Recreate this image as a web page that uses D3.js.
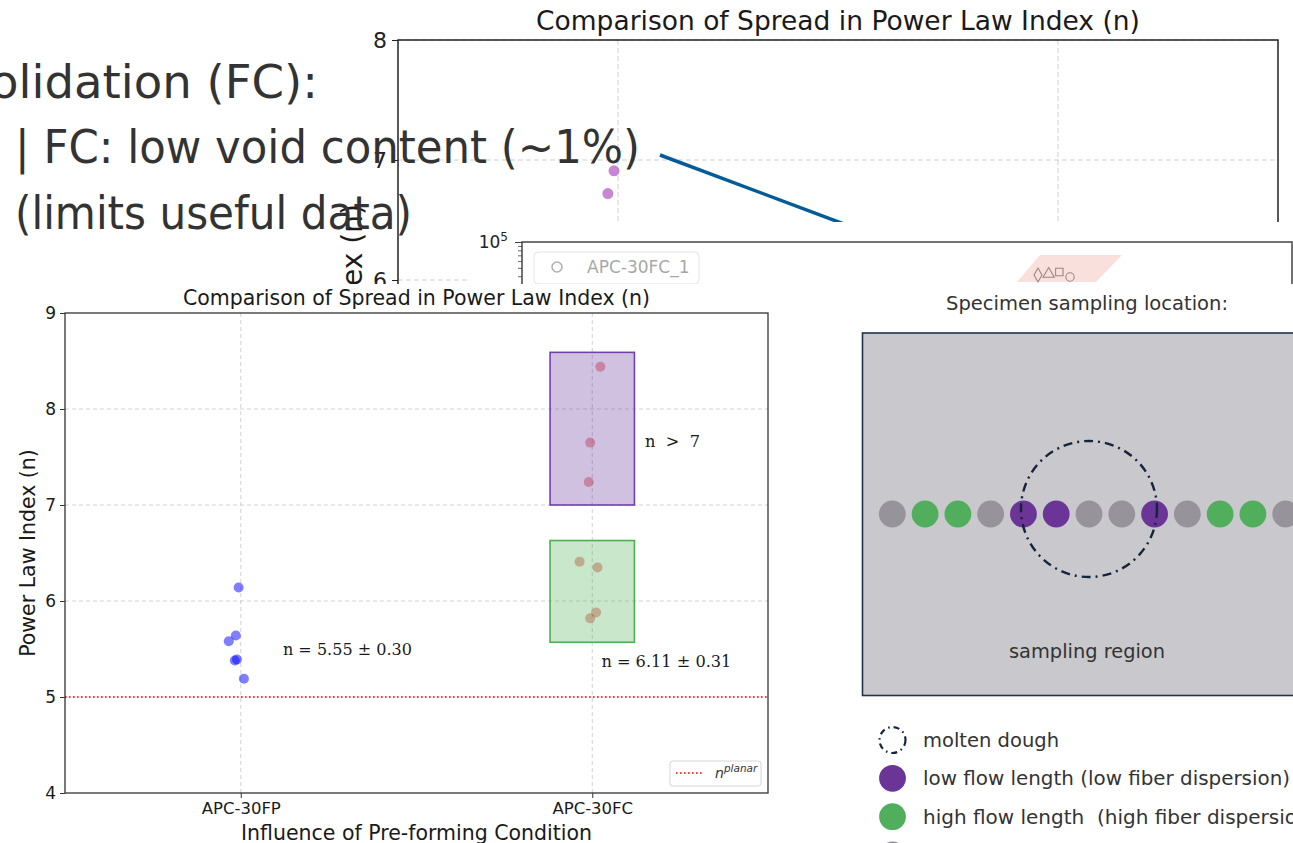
<!DOCTYPE html>
<html>
<head>
<meta charset="utf-8">
<script src="https://cdn.jsdelivr.net/npm/d3@7"></script>
<style>
  html, body { margin: 0; padding: 0; background: #fff; overflow: hidden; }
  svg { display: block; }
</style>
</head>
<body>
<svg id="slide" width="1293" height="843"></svg>
<script>
// ---------------- data ----------------
const categories = ["APC-30FP", "APC-30FC"];

// power law index per specimen, with horizontal jitter (category units)
const fpValues = [6.14, 5.64, 5.58, 5.39, 5.38, 5.19];
const fpJitter = [-0.006, -0.014, -0.034, -0.011, -0.017, 0.009];
const fcHighValues = [8.44, 7.65, 7.24];
const fcHighJitter = [0.023, -0.006, -0.010];
const fcLowValues = [6.41, 6.35, 5.88, 5.82];
const fcLowJitter = [-0.036, 0.015, 0.011, -0.006];

// shaded ranges for the FC groups
const fcHighBand = [7.0, 8.59];
const fcLowBand = [5.57, 6.63];

const nPlanar = 5;
const yTicks = [4, 5, 6, 7, 8, 9];
const chartTitle = "Comparison of Spread in Power Law Index (n)";
const yTitle = "Power Law Index (n)";
const xTitle = "Influence of Pre-forming Condition";
const annotations = ["n = 5.55 \u00B1 0.30", "n  >  7", "n = 6.11 \u00B1 0.31"];

// earlier version of the chart (behind)
const prevValues = [6.91, 6.72];
const prevJitter = [-0.009, -0.023];
const prevTicks = [6, 7, 8];

// inset log chart fragment
const insetLegend = ["APC-30FC_1"];
const insetMarkers = ["diamond", "triangle", "square", "circle"];

// slide text
const slideLines = ["olidation (FC):", "| FC: low void content (~1%)", "(limits useful data)"];

// sampling strip (flow length class for each sample position)
const stripKinds = ["mid", "high", "high", "mid", "low", "low", "mid", "mid", "low", "mid", "high", "high", "mid"];
const diagramTitle = "Specimen sampling location:";
const regionLabel = "sampling region";
const legendLabels = ["molten dough", "low flow length (low fiber dispersion)", "high flow length  (high fiber dispersion)"];
const legendKinds = ["dough", "low", "high", "mid"];

// ---------------- drawing ----------------
const SANS = "'DejaVu Sans', sans-serif";
const SERIF = "'DejaVu Serif', serif";
const svg = d3.select("#slide");

const kindColor = { low: "#6a3596", high: "#50ae5c", mid: "#96939a" };

// ===== earlier chart, partially hidden =====
const bg = svg.append("g");
const px = d3.scaleLinear().domain([-0.5, 1.5]).range([398, 1278]);
const py = d3.scaleLinear().domain([6, 8]).range([280, 40]);

bg.selectAll("line.gy").data(prevTicks).join("line")
  .attr("x1", px(-0.5)).attr("x2", px(1.5))
  .attr("y1", d => py(d)).attr("y2", d => py(d))
  .attr("stroke", "#cfcfcf").attr("stroke-width", 1).attr("stroke-dasharray", "5,3");
bg.selectAll("line.gx").data([0, 1]).join("line")
  .attr("x1", d => px(d)).attr("x2", d => px(d))
  .attr("y1", py(8)).attr("y2", py(4))
  .attr("stroke", "#cfcfcf").attr("stroke-width", 1).attr("stroke-dasharray", "5,3");

bg.append("rect")
  .attr("x", px(-0.5)).attr("y", py(8))
  .attr("width", px(1.5) - px(-0.5)).attr("height", py(4) - py(8))
  .attr("fill", "none").attr("stroke", "#222").attr("stroke-width", 1.5);

bg.append("g").attr("transform", `translate(${px(-0.5)},0)`)
  .call(d3.axisLeft(py).tickValues(prevTicks).tickSize(6).tickPadding(5).tickFormat(d3.format("d")))
  .call(g => g.select(".domain").remove())
  .call(g => g.selectAll("line").attr("stroke", "#222"))
  .call(g => g.selectAll("text").attr("font-size", 22).attr("font-family", SANS).attr("fill", "#222"));

bg.append("text")
  .attr("x", (px(-0.5) + px(1.5)) / 2).attr("y", 30)
  .attr("text-anchor", "middle").attr("font-family", SANS).attr("font-size", 26.5).attr("fill", "#1a1a1a")
  .text(chartTitle);

bg.append("text")
  .attr("transform", `translate(362,346) rotate(-90)`)
  .attr("text-anchor", "middle").attr("font-family", SANS).attr("font-size", 28).attr("fill", "#1a1a1a")
  .text(yTitle);

bg.selectAll("circle.pv").data(prevValues).join("circle")
  .attr("cx", (d, i) => px(prevJitter[i])).attr("cy", d => py(d))
  .attr("r", 5.5).attr("fill", "#b052c2").attr("fill-opacity", 0.7);

// connector line
svg.append("line")
  .attr("x1", 660).attr("y1", 155).attr("x2", 900).attr("y2", 245)
  .attr("stroke", "#035c98").attr("stroke-width", 3.5);

// ===== inset log-scale chart fragment =====
const inset = svg.append("g");
inset.append("rect").attr("x", 470).attr("y", 222).attr("width", 823).attr("height", 70).attr("fill", "#fff");
const ly = d3.scaleLog().domain([1e4, 1e5]).range([328, 242]);
inset.append("path")
  .attr("d", `M522,300V${ly(1e5)}H1292V300`)
  .attr("fill", "none").attr("stroke", "#444").attr("stroke-width", 1.5);
inset.append("g").attr("transform", "translate(522,0)")
  .call(d3.axisLeft(ly).tickValues(d3.range(2, 10).map(k => k * 1e4)).tickSize(4).tickFormat(""))
  .call(g => g.select(".domain").remove())
  .call(g => g.selectAll("line").attr("stroke", "#444").attr("stroke-width", 0.8));
inset.append("g").attr("transform", "translate(522,0)")
  .call(d3.axisLeft(ly).tickValues([1e5]).tickSize(7).tickPadding(4).tickFormat(() => ""))
  .call(g => g.select(".domain").remove())
  .call(g => g.selectAll("line").attr("stroke", "#444"));
const expLabel = inset.append("text")
  .attr("x", 508).attr("y", ly(1e5) + 6).attr("text-anchor", "end")
  .attr("font-family", SANS).attr("font-size", 17).attr("fill", "#222");
expLabel.append("tspan").text("10");
expLabel.append("tspan").attr("dy", -7).attr("font-size", 12).text("5");

const ilg = inset.append("g");
ilg.append("rect").attr("x", 534).attr("y", 252).attr("width", 165).attr("height", 32).attr("rx", 4)
  .attr("fill", "#fff").attr("stroke", "#e4e4e4");
ilg.append("circle").attr("cx", 557).attr("cy", 267).attr("r", 5)
  .attr("fill", "none").attr("stroke", "#b0b0b0").attr("stroke-width", 1.6);
ilg.append("text").attr("x", 587).attr("y", 273)
  .attr("font-family", SANS).attr("font-size", 17).attr("fill", "#a8a8a8").text(insetLegend[0]);

inset.append("polygon")
  .attr("points", "1017,282 1040,255 1122,255 1096,282")
  .attr("fill", "#f8d3cf").attr("fill-opacity", 0.7);
const mx = d3.scalePoint().domain(insetMarkers).range([1038, 1070]);
const symType = { diamond: d3.symbolDiamond, triangle: d3.symbolTriangle, square: d3.symbolSquare, circle: d3.symbolCircle };
inset.selectAll("path.mk").data(insetMarkers).join("path")
  .attr("transform", (d, i) => `translate(${mx(d)},${[275, 274, 272, 277][i]})`)
  .attr("d", d => d3.symbol(symType[d], 55)())
  .attr("fill", "none").attr("stroke", "#9a8585").attr("stroke-width", 1.1);

// ===== slide text =====
const lineLayout = [
  { x: -10, y: 98, w: 328 },
  { x: 15, y: 163, w: 625 },
  { x: 15, y: 229, w: 397 }
];
svg.append("g").selectAll("text").data(slideLines).join("text")
  .attr("x", (d, i) => lineLayout[i].x).attr("y", (d, i) => lineLayout[i].y)
  .attr("textLength", (d, i) => lineLayout[i].w).attr("lengthAdjust", "spacingAndGlyphs")
  .attr("font-family", SANS).attr("font-size", 46).attr("fill", "#333")
  .text(d => d);

// ===== lower panel =====
svg.append("rect").attr("x", 0).attr("y", 284).attr("width", 1293).attr("height", 559).attr("fill", "#fff");

// ---- main chart ----
const M = { left: 65, right: 768, top: 313, bottom: 793 };
const x = d3.scaleLinear().domain([-0.5, 1.5]).range([M.left, M.right]);
const y = d3.scaleLinear().domain([4, 9]).range([M.bottom, M.top]);
const chart = svg.append("g");

// grid
chart.selectAll("line.gy").data(yTicks.slice(1, -1)).join("line")
  .attr("x1", M.left).attr("x2", M.right).attr("y1", d => y(d)).attr("y2", d => y(d))
  .attr("stroke", "#cccccc").attr("stroke-width", 0.9).attr("stroke-dasharray", "4,3");
chart.selectAll("line.gx").data([0, 1]).join("line")
  .attr("x1", d => x(d)).attr("x2", d => x(d)).attr("y1", M.top).attr("y2", M.bottom)
  .attr("stroke", "#cccccc").attr("stroke-width", 0.9).attr("stroke-dasharray", "4,3");

// points
const pts = [];
fpValues.forEach((v, i) => pts.push({ c: 0 + fpJitter[i], v, color: "#0000ff", a: 0.5 }));
fcHighValues.forEach((v, i) => pts.push({ c: 1 + fcHighJitter[i], v, color: "#d62728", a: 0.4 }));
fcLowValues.forEach((v, i) => pts.push({ c: 1 + fcLowJitter[i], v, color: "#d62728", a: 0.4 }));
chart.selectAll("circle.pt").data(pts).join("circle")
  .attr("cx", d => x(d.c)).attr("cy", d => y(d.v)).attr("r", 5)
  .attr("fill", d => d.color).attr("fill-opacity", d => d.a);

// shaded FC ranges
const bands = [
  { r: fcHighBand, color: "#663399", stroke: "#7440b0" },
  { r: fcLowBand, color: "#4caf50", stroke: "#4caf50" }
];
chart.selectAll("rect.band").data(bands).join("rect")
  .attr("x", x(1 - 0.12)).attr("width", x(1.12) - x(0.88))
  .attr("y", d => y(d.r[1])).attr("height", d => y(d.r[0]) - y(d.r[1]))
  .attr("fill", d => d.color).attr("fill-opacity", 0.3)
  .attr("stroke", d => d.stroke).attr("stroke-width", 1.6);

// reference level
chart.append("line")
  .attr("x1", M.left).attr("x2", M.right).attr("y1", y(nPlanar)).attr("y2", y(nPlanar))
  .attr("stroke", "#ff0000").attr("stroke-width", 1.6).attr("stroke-dasharray", "1.6,2.4");

// annotations
const annPos = [
  { c: 0.12, v: 5.5, w: 129 },
  { c: 1.15, v: 7.67, w: 55 },
  { c: 1.026, v: 5.375, w: 130 }
];
chart.selectAll("text.ann").data(annotations).join("text")
  .attr("x", (d, i) => x(annPos[i].c)).attr("y", (d, i) => y(annPos[i].v)).attr("dy", "0.35em")
  .attr("textLength", (d, i) => annPos[i].w).attr("lengthAdjust", "spacingAndGlyphs")
  .attr("font-family", SERIF).attr("font-size", 17).attr("fill", "#1a1a1a")
  .style("white-space", "pre")
  .text(d => d);

// frame
chart.append("rect").attr("x", M.left).attr("y", M.top)
  .attr("width", M.right - M.left).attr("height", M.bottom - M.top)
  .attr("fill", "none").attr("stroke", "#333").attr("stroke-width", 1.3);

// axes
chart.append("g").attr("transform", `translate(${M.left},0)`)
  .call(d3.axisLeft(y).tickValues(yTicks).tickSize(5).tickPadding(4).tickFormat(d3.format("d")))
  .call(g => g.select(".domain").remove())
  .call(g => g.selectAll("line").attr("stroke", "#333"))
  .call(g => g.selectAll("text").attr("font-family", SANS).attr("font-size", 17).attr("fill", "#1a1a1a"));
chart.append("g").attr("transform", `translate(0,${M.bottom})`)
  .call(d3.axisBottom(x).tickValues([0, 1]).tickSize(5).tickPadding(4).tickFormat(i => categories[i]))
  .call(g => g.select(".domain").remove())
  .call(g => g.selectAll("line").attr("stroke", "#333"))
  .call(g => g.selectAll("text").attr("font-family", SANS).attr("font-size", 16.5).attr("fill", "#1a1a1a"));

chart.append("text").attr("x", (M.left + M.right) / 2).attr("y", 305)
  .attr("text-anchor", "middle").attr("font-family", SANS).attr("font-size", 20.5).attr("fill", "#1a1a1a")
  .text(chartTitle);
chart.append("text").attr("x", (M.left + M.right) / 2).attr("y", 840)
  .attr("text-anchor", "middle").attr("font-family", SANS).attr("font-size", 20.5).attr("fill", "#1a1a1a")
  .text(xTitle);
chart.append("text").attr("transform", `translate(35,${(M.top + M.bottom) / 2}) rotate(-90)`)
  .attr("text-anchor", "middle").attr("font-family", SANS).attr("font-size", 20.5).attr("fill", "#1a1a1a")
  .text(yTitle);

// legend
const lg = chart.append("g");
lg.append("rect").attr("x", 670).attr("y", 761).attr("width", 91).attr("height", 25).attr("rx", 3)
  .attr("fill", "#fff").attr("stroke", "#d6d6d6");
lg.append("line").attr("x1", 676).attr("x2", 704).attr("y1", 773).attr("y2", 773)
  .attr("stroke", "#ff0000").attr("stroke-width", 1.6).attr("stroke-dasharray", "1.6,2.4");
const lt = lg.append("text").attr("x", 715).attr("y", 778)
  .attr("font-family", SANS).attr("font-style", "italic").attr("font-size", 14).attr("fill", "#333");
lt.append("tspan").text("n");
lt.append("tspan").attr("dy", -6).attr("font-size", 10.5).text("planar");

// ---- sampling diagram ----
const dg = svg.append("g");
dg.append("text").attr("x", 1087).attr("y", 310).attr("text-anchor", "middle")
  .attr("font-family", SANS).attr("font-size", 20).attr("fill", "#333")
  .attr("textLength", 282).attr("lengthAdjust", "spacingAndGlyphs")
  .text(diagramTitle);

dg.append("rect").attr("x", 862.5).attr("y", 333).attr("width", 500).attr("height", 362.5)
  .attr("fill", "#c9c8cd").attr("stroke", "#21324d").attr("stroke-width", 1.6);

const sx = d3.scalePoint().domain(d3.range(stripKinds.length)).range([892.3, 1285.7]);
dg.selectAll("circle.s").data(stripKinds).join("circle")
  .attr("cx", (d, i) => sx(i)).attr("cy", 514).attr("r", 13.4)
  .attr("fill", d => kindColor[d]);

dg.append("circle").attr("cx", 1089).attr("cy", 509).attr("r", 68)
  .attr("fill", "none").attr("stroke", "#14243c").attr("stroke-width", 2.4)
  .attr("stroke-dasharray", "9,5,2,5");

dg.append("text").attr("x", 1087).attr("y", 658).attr("text-anchor", "middle")
  .attr("font-family", SANS).attr("font-size", 20).attr("fill", "#333")
  .attr("textLength", 156).attr("lengthAdjust", "spacingAndGlyphs")
  .text(regionLabel);

// diagram legend
const legY = d3.scalePoint().domain(legendKinds).range([740, 855]);
dg.selectAll("g.li").data(legendKinds).join("g")
  .attr("transform", d => `translate(892.5,${legY(d)})`)
  .each(function (d) {
    const g = d3.select(this);
    if (d === "dough") {
      g.append("circle").attr("r", 13).attr("fill", "none").attr("stroke", "#14243c")
        .attr("stroke-width", 2.2).attr("stroke-dasharray", "6,4,1.5,4");
    } else {
      g.append("circle").attr("r", 13.4).attr("fill", kindColor[d]);
    }
  });
const legW = [136, 367, null];
dg.selectAll("text.lt").data(legendLabels).join("text")
  .attr("x", 923).attr("y", (d, i) => legY(legendKinds[i]) + 7)
  .attr("font-family", SANS).attr("font-size", 20).attr("fill", "#333")
  .attr("textLength", (d, i) => legW[i]).attr("lengthAdjust", "spacingAndGlyphs")
  .style("white-space", "pre")
  .text(d => d);
</script>
</body>
</html>
